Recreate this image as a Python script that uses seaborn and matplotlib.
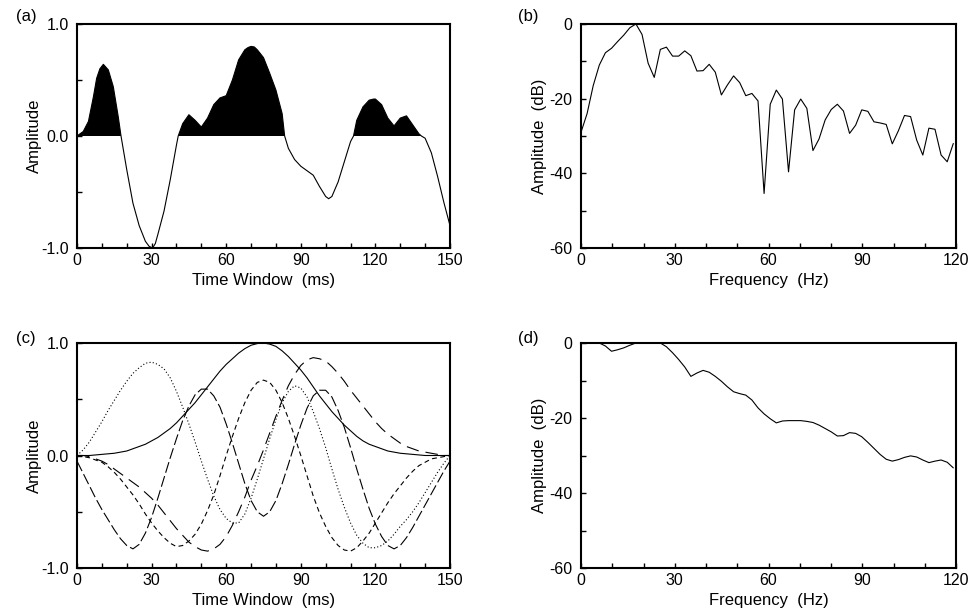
import numpy as np
import pandas as pd
import matplotlib
matplotlib.use("Agg")
import matplotlib.pyplot as plt
from matplotlib.ticker import FixedLocator, MultipleLocator, FormatStrFormatter
import seaborn as sns

# ---------------- data ----------------
# (a) seismic wavelet in the time window
time_a = [0, 2.5, 4.6, 6.6, 7.9, 9.2, 10.6, 12.6, 14.6, 16.6, 17.7, 20, 22.5, 25, 27.5,
          29, 30.4, 31.5, 32.5, 35, 37.5, 40, 40.7, 42.5, 45, 47.5, 50, 52.5, 55, 57.5,
          60, 62.5, 65, 67.5, 68.8, 70, 71.3, 72.5, 75, 77.5, 80, 82.5, 83.5, 85, 87.5,
          90, 92.5, 95, 97.5, 100, 101.2, 102.5, 105, 107.5, 110, 111.2, 112.5, 115,
          117.5, 119.3, 120, 122.5, 125, 127.5, 130, 132.5, 135, 137.5, 138.5, 140,
          142.5, 145, 147.5, 150]
amp_a = [0.0, 0.04, 0.13, 0.35, 0.515, 0.60, 0.64, 0.59, 0.44, 0.17, 0.0, -0.30, -0.60,
         -0.80, -0.94, -0.985, -1.0, -0.96, -0.88, -0.67, -0.39, -0.08, 0.0, 0.11, 0.19,
         0.14, 0.08, 0.16, 0.28, 0.34, 0.36, 0.50, 0.68, 0.77, 0.79, 0.80, 0.795, 0.77,
         0.70, 0.56, 0.41, 0.20, 0.0, -0.11, -0.21, -0.27, -0.31, -0.35, -0.45, -0.54,
         -0.56, -0.54, -0.41, -0.23, -0.05, 0.0, 0.14, 0.26, 0.32, 0.33, 0.33, 0.28,
         0.16, 0.09, 0.16, 0.18, 0.10, 0.02, 0.0, -0.02, -0.15, -0.36, -0.59, -0.80]

# (b) amplitude spectrum of the wavelet (dB)
freq = [0.00, 1.95, 3.91, 5.86, 7.81, 9.77, 11.72, 13.67, 15.63, 17.58, 19.53, 21.48,
        23.44, 25.39, 27.34, 29.30, 31.25, 33.20, 35.16, 37.11, 39.06, 41.02, 42.97,
        44.92, 46.88, 48.83, 50.78, 52.73, 54.69, 56.64, 58.59, 60.55, 62.50, 64.45,
        66.41, 68.36, 70.31, 72.27, 74.22, 76.17, 78.13, 80.08, 82.03, 83.98, 85.94,
        87.89, 89.84, 91.80, 93.75, 95.70, 97.66, 99.61, 101.56, 103.52, 105.47,
        107.42, 109.38, 111.33, 113.28, 115.23, 117.19, 119.14]
spec_b = [-29.0, -24.0, -16.5, -11.0, -7.7, -6.5, -4.7, -3.0, -1.0, 0.0, -2.8, -10.5,
          -14.3, -6.8, -6.2, -8.6, -8.6, -7.2, -8.5, -12.6, -12.5, -10.8, -12.9, -19.0,
          -16.3, -13.9, -15.7, -19.2, -18.6, -20.6, -45.4, -21.5, -17.7, -20.1, -39.6,
          -23.0, -20.1, -22.6, -33.9, -30.8, -25.7, -22.9, -21.5, -23.3, -29.3, -27.1,
          -23.0, -23.4, -26.2, -26.5, -26.9, -32.1, -28.6, -24.5, -24.8, -31.1, -35.1,
          -27.9, -28.2, -35.1, -36.9, -32.0]

# (c) basis functions in the time window
time_c = [0, 2.5, 5, 7.5, 10, 12.5, 15, 17.5, 20, 22.5, 25, 27.5, 30, 32.5, 35, 37.5,
          40, 42.5, 45, 47.5, 50, 52.5, 55, 57.5, 60, 62.5, 65, 67.5, 70, 72.5, 75,
          77.5, 80, 82.5, 85, 87.5, 90, 92.5, 95, 97.5, 100, 102.5, 105, 107.5, 110,
          112.5, 115, 117.5, 120, 122.5, 125, 127.5, 130, 132.5, 135, 137.5, 140,
          142.5, 145, 147.5, 150]
basis_0 = [0.0, 0.0, 0.0, 0.005, 0.01, 0.015, 0.02, 0.03, 0.04, 0.06, 0.08, 0.10, 0.13,
           0.16, 0.20, 0.24, 0.29, 0.35, 0.41, 0.47, 0.54, 0.61, 0.68, 0.75, 0.81, 0.86,
           0.91, 0.95, 0.98, 0.995, 1.0, 0.99, 0.97, 0.93, 0.88, 0.82, 0.76, 0.69, 0.61,
           0.53, 0.46, 0.39, 0.33, 0.27, 0.22, 0.17, 0.13, 0.10, 0.08, 0.06, 0.04, 0.03,
           0.02, 0.015, 0.01, 0.005, 0.0, 0.0, 0.0, 0.0, 0.0]
basis_1 = [0.0, 0.0, -0.01, -0.03, -0.05, -0.08, -0.12, -0.16, -0.20, -0.24, -0.28,
           -0.33, -0.38, -0.44, -0.51, -0.58, -0.65, -0.71, -0.77, -0.81, -0.84, -0.85,
           -0.83, -0.79, -0.72, -0.62, -0.50, -0.37, -0.22, -0.09, 0.05, 0.20, 0.35,
           0.49, 0.62, 0.72, 0.80, 0.85, 0.87, 0.86, 0.84, 0.79, 0.73, 0.66, 0.58, 0.51,
           0.44, 0.37, 0.30, 0.24, 0.19, 0.15, 0.11, 0.08, 0.06, 0.04, 0.03, 0.02, 0.01,
           0.0, 0.0]
basis_2 = [0.0, -0.01, -0.02, -0.04, -0.06, -0.10, -0.15, -0.21, -0.28, -0.35, -0.43,
           -0.52, -0.60, -0.67, -0.73, -0.78, -0.81, -0.80, -0.76, -0.70, -0.61, -0.49,
           -0.35, -0.18, 0.0, 0.17, 0.33, 0.47, 0.58, 0.65, 0.67, 0.65, 0.58, 0.47, 0.33,
           0.17, 0.0, -0.18, -0.36, -0.51, -0.63, -0.73, -0.80, -0.84, -0.85, -0.82,
           -0.76, -0.69, -0.60, -0.51, -0.42, -0.34, -0.27, -0.20, -0.14, -0.09, -0.06,
           -0.03, -0.02, -0.01, 0.0]
basis_3 = [0.0, 0.05, 0.12, 0.21, 0.30, 0.40, 0.49, 0.58, 0.66, 0.73, 0.78, 0.82, 0.83,
           0.81, 0.77, 0.69, 0.57, 0.43, 0.28, 0.12, -0.05, -0.21, -0.36, -0.48, -0.56,
           -0.60, -0.60, -0.52, -0.38, -0.21, -0.03, 0.15, 0.32, 0.47, 0.57, 0.62, 0.60,
           0.52, 0.39, 0.24, 0.07, -0.12, -0.30, -0.46, -0.60, -0.71, -0.78, -0.82,
           -0.82, -0.80, -0.76, -0.70, -0.63, -0.57, -0.50, -0.42, -0.33, -0.24, -0.15,
           -0.07, 0.0]
basis_4 = [-0.05, -0.16, -0.27, -0.38, -0.48, -0.57, -0.66, -0.74, -0.80, -0.83, -0.79,
           -0.69, -0.55, -0.38, -0.20, -0.02, 0.15, 0.31, 0.44, 0.54, 0.59, 0.59, 0.53,
           0.43, 0.28, 0.11, -0.07, -0.25, -0.40, -0.50, -0.54, -0.50, -0.40, -0.25,
           -0.08, 0.10, 0.27, 0.42, 0.53, 0.58, 0.58, 0.52, 0.40, 0.25, 0.07, -0.12,
           -0.30, -0.47, -0.61, -0.72, -0.80, -0.83, -0.80, -0.73, -0.64, -0.54, -0.44,
           -0.34, -0.24, -0.14, -0.05]
basis_names = ["b0", "b1", "b2", "b3", "b4"]

# (d) smoothed spectrum (dB)
spec_d = [0.0, 0.0, 0.0, 0.0, -0.8, -2.2, -1.8, -1.3, -0.6, 0.0, 0.0, 0.0, 0.0, 0.0,
          -1.0, -2.6, -4.4, -6.4, -8.9, -8.0, -7.3, -7.8, -8.9, -10.2, -11.7, -13.0,
          -13.5, -13.9, -15.2, -17.3, -18.9, -20.2, -21.3, -20.8, -20.7, -20.7, -20.7,
          -20.9, -21.2, -21.9, -22.8, -23.7, -24.8, -24.7, -23.9, -24.1, -25.0, -26.5,
          -28.1, -29.7, -31.0, -31.5, -31.1, -30.5, -30.1, -30.4, -31.2, -31.9, -31.5,
          -31.2, -31.8, -33.3]

# ---------------- style ----------------
sns.set_theme(style="ticks")
plt.rcParams.update({
    "font.family": ["Liberation Sans", "DejaVu Sans"],
    "axes.unicode_minus": False,
    "lines.scale_dashes": False,
    "axes.edgecolor": "black",
    "axes.linewidth": 1.5,
    "xtick.color": "black",
    "ytick.color": "black",
    "text.color": "black",
    "axes.labelcolor": "black",
})

W, H = 971, 611
fig = plt.figure(figsize=(W / 100, H / 100), dpi=100)


def add_ax(l, t, r, b):
    return fig.add_axes([l / W, 1 - b / H, (r - l) / W, (b - t) / H])


ax_a = add_ax(77, 24, 450, 248)
ax_b = add_ax(581, 24, 956, 248)
ax_c = add_ax(77, 343, 450, 568)
ax_d = add_ax(581, 343, 956, 568)

LW = 0.8
TICK_FS = 11.5
LABEL_FS = 12

# (a)
df_a = pd.DataFrame({"t": time_a, "amp": amp_a})
sns.lineplot(data=df_a, x="t", y="amp", ax=ax_a, color="black", lw=LW,
             errorbar=None, sort=False)
ta = np.array(time_a)
aa = np.array(amp_a)
ax_a.fill_between(ta, aa, 0, where=aa >= 0, interpolate=True, color="black", lw=0)

# (b)
df_b = pd.DataFrame({"f": freq, "db": spec_b})
sns.lineplot(data=df_b, x="f", y="db", ax=ax_b, color="black", lw=LW,
             errorbar=None, sort=False)

# (c)
series_c = [basis_0, basis_1, basis_2, basis_3, basis_4]
df_c = pd.concat([pd.DataFrame({"t": time_c, "v": s, "curve": n})
                  for s, n in zip(series_c, basis_names)], ignore_index=True)
dash_map = {"b0": "", "b1": (9, 5), "b2": (3.5, 2.5), "b3": (0.8, 1.6), "b4": (8, 2.5)}
sns.lineplot(data=df_c, x="t", y="v", style="curve", dashes=dash_map, ax=ax_c,
             color="black", lw=LW, errorbar=None, legend=False, sort=False)

# (d)
df_d = pd.DataFrame({"f": freq, "db": spec_d})
sns.lineplot(data=df_d, x="f", y="db", ax=ax_d, color="black", lw=LW,
             errorbar=None, sort=False)

# axes formatting
for ax in (ax_a, ax_c):
    ax.set_xlim(0, 150)
    ax.set_ylim(-1, 1)
    ax.xaxis.set_major_locator(FixedLocator([0, 30, 60, 90, 120, 150]))
    ax.xaxis.set_minor_locator(MultipleLocator(10))
    ax.yaxis.set_major_locator(FixedLocator([-1, 0, 1]))
    ax.yaxis.set_minor_locator(FixedLocator([-0.5, 0.5]))
    ax.yaxis.set_major_formatter(FormatStrFormatter("%.1f"))
    ax.set_xlabel("Time Window  (ms)", fontsize=LABEL_FS)
    ax.set_ylabel("Amplitude", fontsize=LABEL_FS)
    ax.yaxis.set_label_coords(-0.094, 0.5)

for ax in (ax_b, ax_d):
    ax.set_xlim(0, 120)
    ax.set_ylim(-60, 0)
    ax.xaxis.set_major_locator(FixedLocator([0, 30, 60, 90, 120]))
    ax.xaxis.set_minor_locator(MultipleLocator(10))
    ax.yaxis.set_major_locator(FixedLocator([-60, -40, -20, 0]))
    ax.yaxis.set_minor_locator(FixedLocator([-50, -30, -10]))
    ax.yaxis.set_major_formatter(FormatStrFormatter("%d"))
    ax.set_xlabel("Frequency  (Hz)", fontsize=LABEL_FS)
    ax.set_ylabel("Amplitude  (dB)", fontsize=LABEL_FS)
    ax.yaxis.set_label_coords(-0.091, 0.5)

for ax in (ax_a, ax_b, ax_c, ax_d):
    ax.xaxis.set_label_coords(0.5, -0.11)
    ax.tick_params(which="both", direction="in", length=3.5, width=1.0,
                   top=False, right=False, labelsize=TICK_FS)
    ax.tick_params(axis="x", which="both", pad=3.5)
    ax.tick_params(axis="y", which="both", pad=6)
    for sp in ax.spines.values():
        sp.set_visible(True)
        sp.set_color("black")
        sp.set_linewidth(1.5)

for lab, x, y in (("(a)", 16, 17), ("(b)", 518, 17), ("(c)", 16, 338), ("(d)", 518, 338)):
    fig.text(x / W, 1 - y / H, lab, fontsize=LABEL_FS, ha="left", va="center")

fig.savefig("out.png", dpi=100)
